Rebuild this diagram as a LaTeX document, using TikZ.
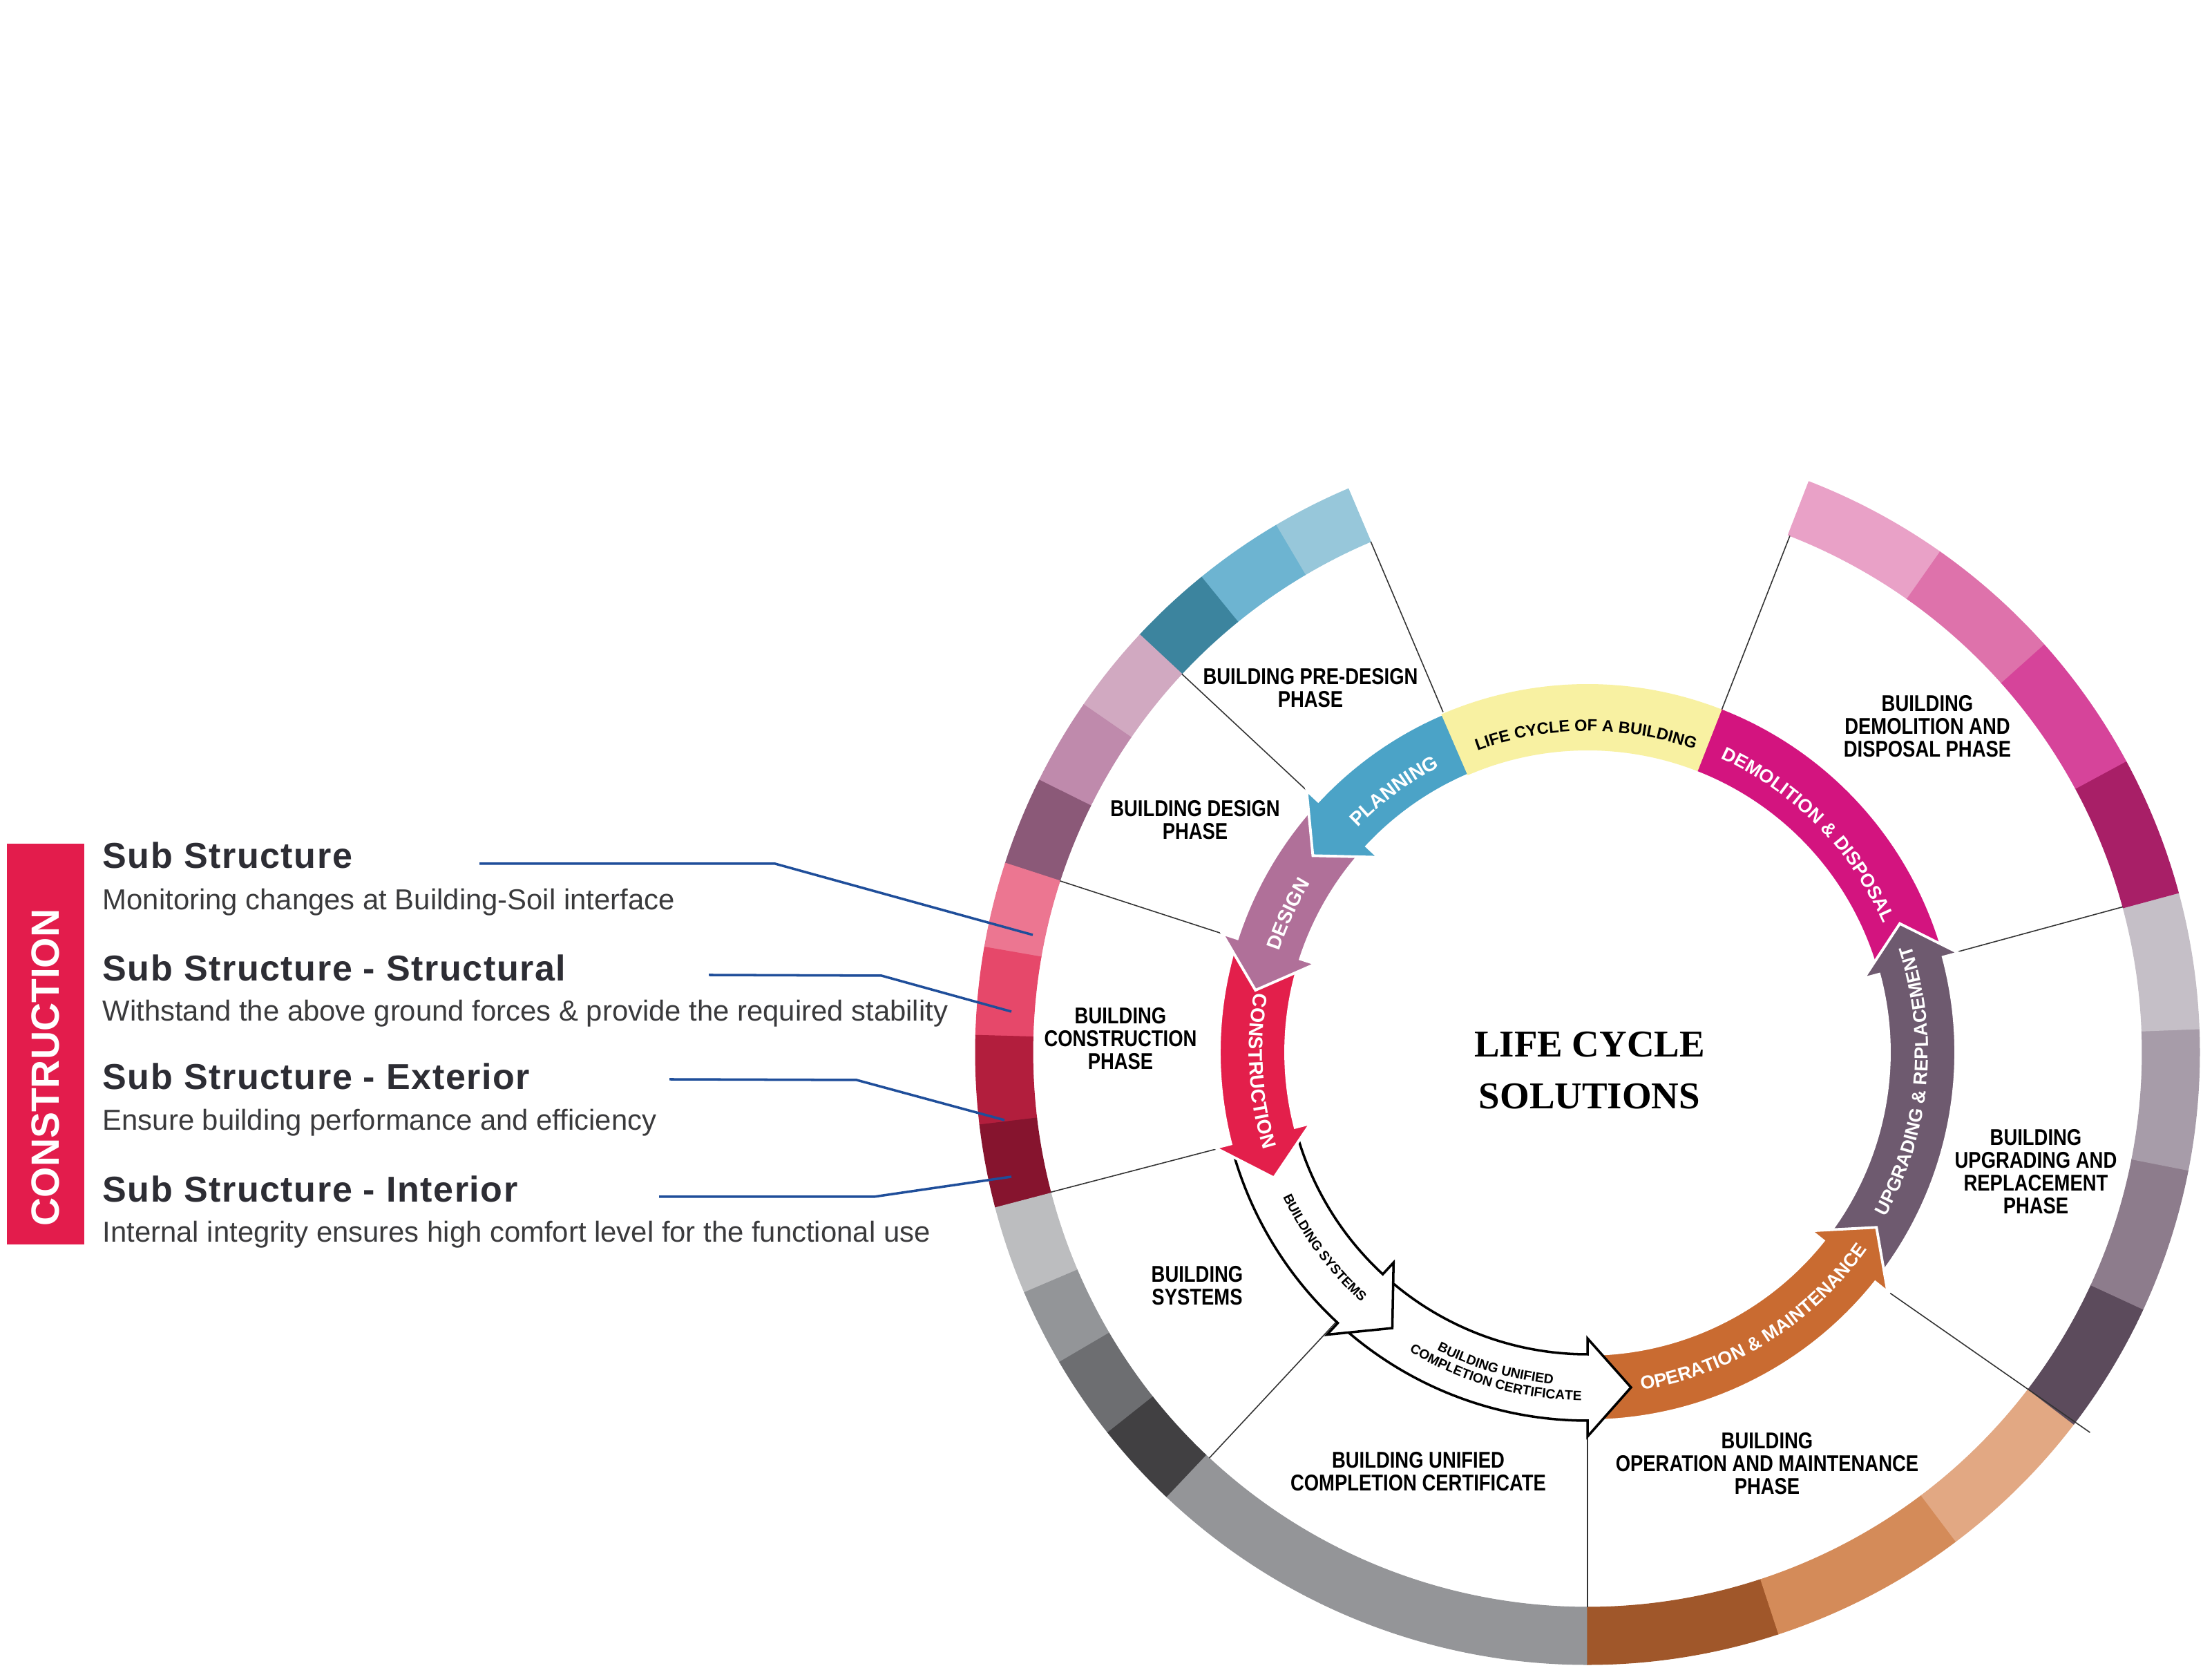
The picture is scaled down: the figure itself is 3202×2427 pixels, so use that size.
\documentclass[tikz,border=0pt]{standalone}
\usepackage{fontspec}
\usetikzlibrary{decorations.text}
\newfontfamily\lsans{Liberation Sans}
\newfontfamily\lsanshead[LetterSpace=3]{Liberation Sans}
\newfontfamily\lsanscond[FakeStretch=0.83]{Liberation Sans}
\newfontfamily\lserif{Liberation Serif}
% outer ring colours
\definecolor{bA}{HTML}{97C7DA}\definecolor{bB}{HTML}{6DB4D1}\definecolor{bC}{HTML}{3C849E}
\definecolor{dA}{HTML}{D1A9C1}\definecolor{dB}{HTML}{BF8AAC}\definecolor{dC}{HTML}{8B5978}
\definecolor{cA}{HTML}{EC7691}\definecolor{cB}{HTML}{E6486A}\definecolor{cC}{HTML}{B21E3D}\definecolor{cD}{HTML}{86142E}
\definecolor{sA}{HTML}{BCBDBF}\definecolor{sB}{HTML}{939598}\definecolor{sC}{HTML}{6D6E71}\definecolor{sD}{HTML}{414042}
\definecolor{uA}{HTML}{949598}
\definecolor{oA}{HTML}{A0572A}\definecolor{oB}{HTML}{D48B59}\definecolor{oC}{HTML}{E2A883}
\definecolor{gA}{HTML}{5C4B5C}\definecolor{gB}{HTML}{8D7C8C}\definecolor{gC}{HTML}{A79CA9}\definecolor{gD}{HTML}{C5BFC7}
\definecolor{mA}{HTML}{A81F67}\definecolor{mB}{HTML}{D6449A}\definecolor{mC}{HTML}{DE72AB}\definecolor{mD}{HTML}{E9A1C7}
% inner ring colours
\definecolor{yel}{HTML}{F8F1A2}\definecolor{plan}{HTML}{4BA3C7}\definecolor{desi}{HTML}{B07099}
\definecolor{cons}{HTML}{E31F4B}\definecolor{oper}{HTML}{C96B31}\definecolor{upgr}{HTML}{6E5A6F}
\definecolor{demo}{HTML}{D3147F}
\definecolor{barred}{HTML}{E31C4C}\definecolor{leadblue}{HTML}{1F4E9A}
\definecolor{headgray}{HTML}{2D2D34}\definecolor{bodygray}{HTML}{3A3A3C}\definecolor{sepgray}{HTML}{333333}
\newcommand\ringseg[3]{\filldraw[fill=#3,draw=#3,line width=0.3pt] (#1:803) arc[start angle=#1,end angle=#2,radius=803] -- (#2:886) arc[start angle=#2,end angle=#1,radius=886] -- cycle;}
\newcommand\ringarrow[3]{\filldraw[#3] (#1:533) arc[start angle=#1,end angle=#2,radius=533] -- (#2:556) -- ({#2+7.4}:489) -- (#2:414) -- (#2:437) arc[start angle=#2,end angle=#1,radius=437] -- cycle;}
\newcommand\arctext[6]{\path[decorate,decoration={text along path,text align=center,text color=#6,text={|#4|#5}}] (#1:#3) arc[start angle=#1,end angle=#2,radius=#3];}
\newcommand\arcfontA{\lsans\bfseries\fontsize{8.1pt}{8pt}\selectfont}
\newcommand\arcfontB{\lsans\bfseries\fontsize{7.7pt}{8pt}\selectfont}
\newcommand\arcfontC{\lsans\bfseries\fontsize{5.5pt}{6pt}\selectfont}
\newcommand\arcfontD{\lsans\bfseries\fontsize{6.7pt}{8pt}\selectfont}
\begin{document}
\begin{tikzpicture}[x=0.01cm,y=0.01cm,
  head/.style={anchor=base west,inner sep=0,text=headgray,font=\lsanshead\bfseries\fontsize{14.8pt}{17pt}\selectfont},
  body/.style={anchor=base west,inner sep=0,text=bodygray,font=\lsans\fontsize{11.9pt}{14pt}\selectfont},
  leader/.style={draw=leadblue,line width=1pt},
  phase/.style={align=center,inner sep=0,font=\lsanscond\bfseries\fontsize{9.4pt}{9.4pt}\selectfont},
  sepline/.style={draw=sepgray,line width=0.45pt},
  colarrow/.style={draw=white,line width=1.1pt,line join=miter},
  whitearrow/.style={fill=white,draw=black,line width=1pt,line join=miter}]
\useasboundingbox (0,0) rectangle (3202,2427);
\fill[white] (0,0) rectangle (3202,2427);

% ---------- left panel ----------
\fill[barred] (10,626) rectangle (122,1206);
\node[rotate=90,text=white,inner sep=0,font=\lsans\bfseries\fontsize{16.2pt}{16.2pt}\selectfont] (bartext) at (66,882) {CONSTRUCTION};

\node[head] (h1) at (148,1170) {Sub Structure};
\node[body] (b1) at (148,1110) {Monitoring changes at Building-Soil interface};
\node[head] (h2) at (148,1007) {Sub Structure - Structural};
\node[body] (b2) at (148,949) {Withstand the above ground forces \& provide the required stability};
\node[head] (h3) at (148,850) {Sub Structure - Exterior};
\node[body] (b3) at (148,791) {Ensure building performance and efficiency};
\node[head] (h4) at (148,687) {Sub Structure - Interior};
\node[body] (b4) at (148,629) {Internal integrity ensures high comfort level for the functional use};

\coordinate (l1s) at (694,1177); \coordinate (l1k) at (1122,1177); \coordinate (l1e) at (1495,1074);
\coordinate (l2s) at (1026,1016); \coordinate (l2k) at (1276,1015); \coordinate (l2e) at (1464,963);
\coordinate (l3s) at (969,865); \coordinate (l3k) at (1240,864); \coordinate (l3e) at (1454,806);
\coordinate (l4s) at (954,695); \coordinate (l4k) at (1265,695); \coordinate (l4e) at (1464,724);

% ---------- circle ----------
\begin{scope}[shift={(2298,904)}]
% outer ring
\foreach \a/\b/\c in {113/120.6/bA,120.6/129.1/bB,129.1/137/bC,
  137/145.4/dA,145.4/153.6/dB,153.6/162/dC,
  162/170.1/cA,170.1/178.4/cB,178.4/186.8/cC,186.8/194.7/cD,
  194.7/203.1/sA,203.1/210.4/sB,210.4/218.4/sC,218.4/226.6/sD,
  226.6/270/uA,
  270/288.2/oA,288.2/307/oB,307/322.6/oC,
  322.6/335.2/gA,335.2/348.9/gB,348.9/362.2/gC,362.2/375.1/gD,
  375.1/388.4/mA,388.4/401.8/mB,401.8/414.9/mC,414.9/428.8/mD}
  {\ringseg{\a}{\b}{\c}}

% separators
\foreach \a in {68.6,113,137,162,194.6,227,270,375.2}
  {\draw[sepline] (\a:530) -- (\a:803);}
\draw[sepline] (-38.5:560) -- (-37.1:912);

% inner ring
\filldraw[fill=demo,draw=none] (17.5:437) -- (17.5:533) arc[start angle=17.5,end angle=68.8,radius=533] -- (68.8:437) arc[start angle=68.8,end angle=17.5,radius=437] -- cycle;
\ringarrow{321.4}{375}{colarrow,fill=upgr}
\ringarrow{270}{321.4}{colarrow,fill=oper}
\ringarrow{228.5}{270}{whitearrow}
\ringarrow{196}{227.3}{whitearrow}
\ringarrow{162}{194.4}{colarrow,fill=cons}
\ringarrow{137}{162}{colarrow,fill=desi}
\ringarrow{113}{137}{colarrow,fill=plan}
\fill[yel] (68.6:437) -- (68.6:533) arc[start angle=68.6,end angle=113.4,radius=533] -- (113.4:437) arc[start angle=113.4,end angle=68.6,radius=437] -- cycle;

% arc labels
\arctext{156.5}{96.5}{465.5}{\arcfontA}{PLANNING}{white}
\arctext{185.2}{125.2}{470}{\arcfontA}{DESIGN}{white}
\arctext{153.3}{213.3}{490}{\arcfontA}{CONSTRUCTION}{white}
\arctext{186.6}{246.6}{488}{\arcfontC}{BUILDING SYSTEMS}{black}
\arctext{223.6}{283.6}{483}{\arcfontC}{BUILDING UNIFIED}{black}
\arctext{224.1}{284.1}{504}{\arcfontC}{COMPLETION CERTIFICATE}{black}
\arctext{267}{337}{495}{\arcfontB}{OPERATION {\&} MAINTENANCE}{white}
\arctext{319.7}{389.7}{493}{\arcfontB}{UPGRADING {\&} REPLACEMENT}{white}
\arctext{79.6}{9.6}{467}{\arcfontB}{DEMOLITION {\&} DISPOSAL}{white}
\arctext{125.3}{55.3}{465}{\arcfontD}{LIFE CYCLE OF A BUILDING}{black}
\end{scope}

\draw[leader] (l1s) -- (l1k) -- (l1e);
\draw[leader] (l2s) -- (l2k) -- (l2e);
\draw[leader] (l3s) -- (l3k) -- (l3e);
\draw[leader] (l4s) -- (l4k) -- (l4e);

% phase labels
\node[phase] (predesign) at (1897,1431) {BUILDING PRE-DESIGN\\PHASE};
\node[phase] (design) at (1730,1240) {BUILDING DESIGN\\PHASE};
\node[phase] (construction) at (1622,924) {BUILDING\\CONSTRUCTION\\PHASE};
\node[phase] (systems) at (1733,566) {BUILDING\\SYSTEMS};
\node[phase] (unified) at (2053,297) {BUILDING UNIFIED\\COMPLETION CERTIFICATE};
\node[phase] (operation) at (2558,309) {BUILDING\\OPERATION AND MAINTENANCE\\PHASE};
\node[phase] (upgrading) at (2947,731) {BUILDING\\UPGRADING AND\\REPLACEMENT\\PHASE};
\node[phase] (demolition) at (2790,1376) {BUILDING\\DEMOLITION AND\\DISPOSAL PHASE};

% centre title
\node[align=center,inner sep=0,font=\lserif\bfseries\fontsize{15.6pt}{21.3pt}\selectfont] (title) at (2301,878) {LIFE CYCLE\\SOLUTIONS};
\end{tikzpicture}
\end{document}
